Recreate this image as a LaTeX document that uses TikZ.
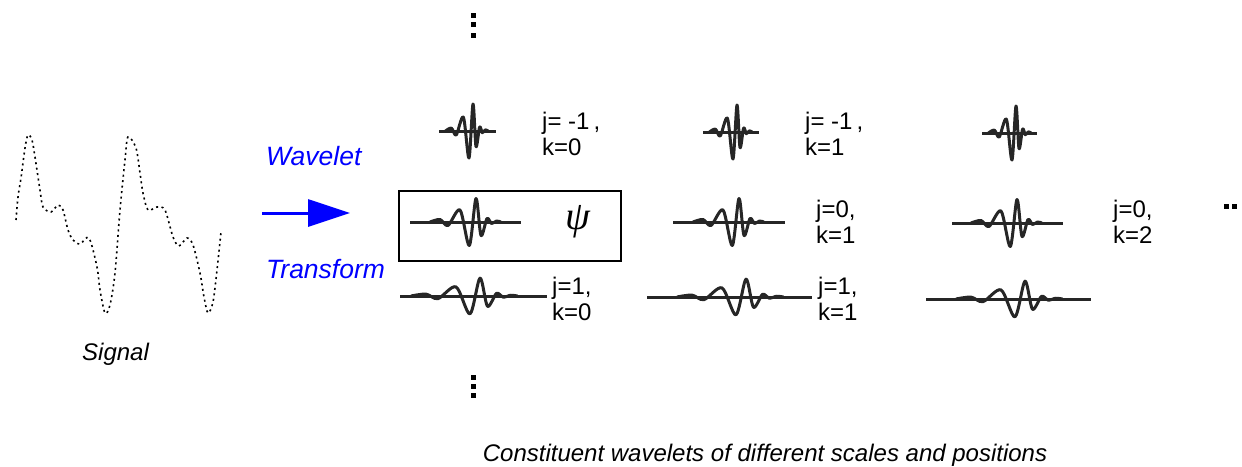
\documentclass[tikz,border=0pt]{standalone}
\usepackage{fontspec}
\setmainfont{Liberation Sans}
\newfontfamily\psifont{Liberation Serif}
\usetikzlibrary{arrows.meta}
\definecolor{wtblue}{RGB}{0,0,255}
\newcommand{\wav}[6]{%
  \draw[wave] (#5,#2) -- (#6,#2);
  \begin{scope}[shift={(#1,#2)}, xscale=#3, yscale=#4]
    \draw[wave] plot[smooth, tension=0.5] coordinates {(-46,0) (-36,-2.5) (-28,3.5) (-16,-12) (-6.7,23.5) (0,-23.5) (5,13.5) (11,-3.5) (15.5,1.5) (20.5,-1) (25,0)};
  \end{scope}}
\begin{document}
\begin{tikzpicture}[x=1pt,y=-1pt,
  wave/.style={line width=3pt, black!85, line join=round},
  lbl/.style={font=\fontsize{24}{26}\selectfont, align=left, anchor=west, inner sep=0pt},
  itl/.style={font=\fontsize{24}{26}\selectfont\itshape, inner sep=0pt},
  bitl/.style={font=\fontsize{26.5}{28}\selectfont\itshape, inner sep=0pt, text=wtblue},
  sig/.style={line width=1.6pt, dash pattern=on 2pt off 3.5pt},
  dotsq/.style={fill=black}]
\useasboundingbox (0,0) rectangle (1242,466);
% signal
\draw[sig] plot[smooth, tension=0.5] coordinates {(16,220) (18,197) (21,178) (25,148) (28,135) (32,140) (35,157) (40,190) (43,207) (51,212) (58,205) (63,210) (68,230) (73,240) (80,244) (89,238) (97,267) (100,290) (105,313) (110,305) (115,273) (120,210) (125,160) (128,137) (136,148) (140,173) (143,193) (148,210) (157,207) (165,210) (173,237) (179,246) (187,238) (193,245) (200,273) (204,297) (208,313) (213,302) (217,270) (221,232)};
\node[itl, anchor=base west] (signal) at (82,360) {Signal};
% arrow
\node[bitl, anchor=base west] (wl) at (266,165) {Wavelet};
\node[bitl, anchor=base west] (tr) at (266,278) {Transform};
\coordinate (as) at (262,213);
\coordinate (ae) at (350,213);
\draw[wtblue, line width=3pt, -{Triangle[length=42pt,width=27pt]}] (as) -- (ae);
% box
\node[draw, line width=1.6pt, minimum width=222pt, minimum height=70pt, inner sep=0pt] (box) at (510,226) {};
\node[inner sep=0pt] (psi) at (578,222) {\fontsize{40}{40}\psifont\itshape ψ};
% wavelets row j=-1
\wav{473}{131}{0.6}{1.15}{439}{496}
\wav{737}{132}{0.6}{1.15}{703}{759}
\wav{1016}{133}{0.6}{1.15}{982}{1037}
% row j=0
\wav{476}{222}{1}{1}{410}{521}
\wav{739}{222}{1}{1}{673}{785}
\wav{1017}{223}{1}{1}{952}{1063}
% row j=1
\wav{480}{296}{1.5}{0.76}{400}{547}
\wav{746}{297}{1.5}{0.76}{647}{812}
\wav{1025}{299}{1.5}{0.76}{926}{1091}
% labels
\node[lbl] (l1) at (542,134) {j= -1\,,\\k=0};
\node[lbl] (l2) at (805,134) {j= -1\,,\\k=1};
\node[lbl] (l3) at (816,222) {j=0,\\k=1};
\node[lbl] (l4) at (1113,222) {j=0,\\k=2};
\node[lbl] (l5) at (552,299) {j=1,\\k=0};
\node[lbl] (l6) at (818,299) {j=1,\\k=1};
% ellipses
\foreach \yy in {15,24,35} \fill[dotsq] (470.5,\yy-2.5) rectangle ++(5,5);
\foreach \yy in {377,386,395} \fill[dotsq] (470.5,\yy-2.5) rectangle ++(5,5);
\foreach \xx in {1226,1234} \fill[dotsq] (\xx-2.5,203.5) rectangle ++(5,5);
% caption
\node[itl, anchor=base] (cap) at (765,461) {Constituent wavelets of different scales and positions};
\end{tikzpicture}
\end{document}
